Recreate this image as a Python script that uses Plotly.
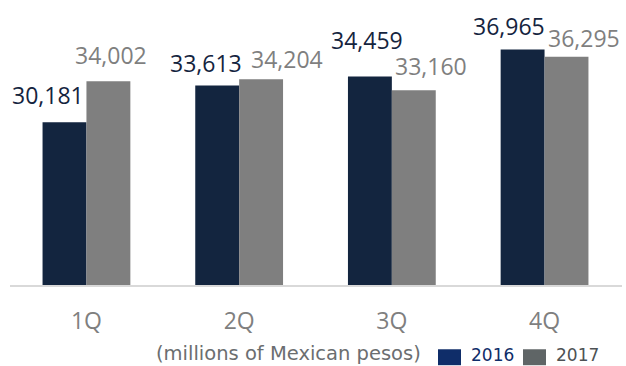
import plotly.graph_objects as go

# Quarterly figures, millions of Mexican pesos
quarters = ["1Q", "2Q", "3Q", "4Q"]
values_2016 = [30181, 33613, 34459, 36965]
values_2017 = [34002, 34204, 33160, 36295]
series_names = ["2016", "2017"]

# Styling
BAR_2016 = "#13253f"
BAR_2017 = "#7f7f7f"
LEG_2016 = "#0f2d69"
LEG_2017 = "#5f6566"
LABEL_FONT = "Open Sans, Noto Sans, sans-serif"
LEGEND_FONT = "DejaVu Sans, Liberation Sans, sans-serif"

W, H = 626, 366
M_L, M_R, M_T, M_B = 10, 4, 16.5, 80.5
BARGAP = 0.425
Y_RANGE = [15000, 40000]

# Label nudges (pixels) so neighbouring value labels do not collide
shift_2016 = [(-16.5, 27), (-11.5, 22), (-2.5, 36), (-14, 24)]
shift_2017 = [(2.5, 26), (26, 20), (17, 24), (17.5, 19)]

fig = go.Figure()
fig.add_trace(go.Bar(x=quarters, y=values_2016, name=series_names[0],
                     marker=dict(color=BAR_2016, line=dict(width=0)),
                     showlegend=False))
fig.add_trace(go.Bar(x=quarters, y=values_2017, name=series_names[1],
                     marker=dict(color=BAR_2017, line=dict(width=0)),
                     showlegend=False))

half = (1 - BARGAP) / 4  # centre offset of each bar within its group

annotations = []
for i, (v, (dx, dy)) in enumerate(zip(values_2016, shift_2016)):
    annotations.append(dict(x=i - half, y=v, xref="x", yref="y", text=f"{v:,}",
                            showarrow=False, xanchor="center", yanchor="middle",
                            xshift=dx, yshift=dy,
                            font=dict(family=LABEL_FONT, size=23, color="#14243e")))
for i, (v, (dx, dy)) in enumerate(zip(values_2017, shift_2017)):
    annotations.append(dict(x=i + half, y=v, xref="x", yref="y", text=f"{v:,}",
                            showarrow=False, xanchor="center", yanchor="middle",
                            xshift=dx, yshift=dy,
                            font=dict(family=LABEL_FONT, size=23, color="#7f7f7f")))

plot_w = W - M_L - M_R
plot_h = H - M_T - M_B


def px_x(p):
    return (p - M_L) / plot_w


def px_y(p):
    return (H - M_B - p) / plot_h


# Unit note and custom legend along the bottom edge
annotations.append(dict(x=px_x(422), y=px_y(354), xref="paper", yref="paper",
                        text="(millions of Mexican pesos)", showarrow=False,
                        xanchor="right", yanchor="middle", borderpad=0,
                        font=dict(family=LEGEND_FONT, size=19.5, color="#6b6e70")))
annotations.append(dict(x=px_x(470), y=px_y(356), xref="paper", yref="paper",
                        text=series_names[0], showarrow=False,
                        xanchor="left", yanchor="middle", borderpad=0,
                        font=dict(family=LEGEND_FONT, size=17, color=LEG_2016)))
annotations.append(dict(x=px_x(555), y=px_y(356), xref="paper", yref="paper",
                        text=series_names[1], showarrow=False,
                        xanchor="left", yanchor="middle", borderpad=0,
                        font=dict(family=LEGEND_FONT, size=17, color="#4d5254")))

shapes = [
    dict(type="rect", xref="paper", yref="paper",
         x0=px_x(438), x1=px_x(461), y0=px_y(366), y1=px_y(350),
         fillcolor=LEG_2016, line=dict(width=0)),
    dict(type="rect", xref="paper", yref="paper",
         x0=px_x(523), x1=px_x(546), y0=px_y(366), y1=px_y(350),
         fillcolor=LEG_2017, line=dict(width=0)),
]

fig.update_layout(
    width=W, height=H,
    margin=dict(l=M_L, r=M_R, t=M_T, b=M_B, pad=0),
    paper_bgcolor="white", plot_bgcolor="white",
    barmode="group", bargap=BARGAP, bargroupgap=0,
    annotations=annotations, shapes=shapes,
    xaxis=dict(showline=True, linecolor="#d9d9d9", linewidth=2,
               ticks="outside", ticklen=14, tickcolor="rgba(0,0,0,0)",
               tickfont=dict(family=LABEL_FONT, size=23, color="#7f7f7f"),
               showgrid=False, zeroline=False, fixedrange=True),
    yaxis=dict(range=Y_RANGE, visible=False, showgrid=False,
               zeroline=False, fixedrange=True),
    font=dict(family=LABEL_FONT),
)

fig.write_html("out.html", config=dict(displayModeBar=False))
